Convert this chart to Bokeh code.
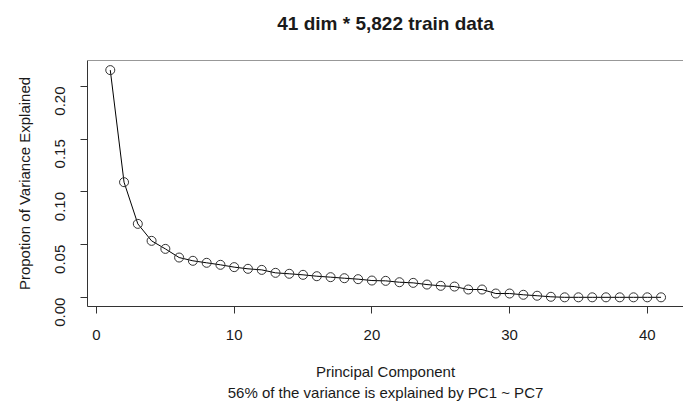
import math
from bokeh.plotting import figure
from bokeh.models import FixedTicker, PrintfTickFormatter, Span, Title, Range1d
from bokeh.embed import file_html
from bokeh.resources import INLINE

# ---- data ----
pc = list(range(1, 42))
variance = [0.2155, 0.1093, 0.0698, 0.0537, 0.0461, 0.0379, 0.0348, 0.0329,
            0.0310, 0.0288, 0.0272, 0.0262, 0.0234, 0.0225, 0.0215, 0.0202,
            0.0193, 0.0183, 0.0174, 0.0161, 0.0158, 0.0145, 0.0139, 0.0123,
            0.0111, 0.0104, 0.0076, 0.0076, 0.0038, 0.0038, 0.0026, 0.0017,
            0.0007, 0.0002, 0.0002, 0.0002, 0.0002, 0.0002, 0.0002, 0.0002,
            0.0002]
x_ticks = [0, 10, 20, 30, 40]
y_ticks = [0.0, 0.05, 0.10, 0.15, 0.20]
title_text = "41 dim * 5,822 train data"
x_label = "Principal Component"
x_sub = "56% of the variance is explained by PC1 ~ PC7"
y_label = "Propotion of Variance Explained"

FONT = "Liberation Sans"
TXT = "#1a1a1a"

X0, X1 = -0.654, 42.63
Y0, Y1 = -0.0085, 0.2246

p = figure(width=683, height=401, output_backend="svg", toolbar_location=None,
           x_range=Range1d(X0, X1), y_range=Range1d(Y0, Y1),
           min_border_left=87, min_border_top=60, min_border_bottom=95,
           min_border_right=0)
p.grid.visible = False
p.outline_line_color = None
p.background_fill_color = "white"
p.border_fill_color = "white"

# spacer panel between the box and the title (pushes the title up)
p.add_layout(Title(text=" ", text_font=FONT, text_font_size="8px", standoff=4), "above")
p.add_layout(Title(text=title_text, align="center", vertical_align="top",
                   text_font=FONT, text_font_size="19px", text_font_style="bold",
                   text_color=TXT, standoff=20), "above")

for ax in (p.xaxis[0], p.yaxis[0]):
    ax.axis_line_color = "#333333"
    ax.major_tick_line_color = "#333333"
    ax.major_tick_out = 7
    ax.major_tick_in = 0
    ax.minor_tick_line_color = None
    ax.major_label_text_font = FONT
    ax.major_label_text_font_size = "15px"
    ax.major_label_text_color = TXT
    ax.axis_label_text_font = FONT
    ax.axis_label_text_font_size = "15px"
    ax.axis_label_text_font_style = "normal"
    ax.axis_label_text_color = TXT

p.xaxis.ticker = FixedTicker(ticks=x_ticks)
p.xaxis.major_label_standoff = 16
p.xaxis.axis_label = x_label
p.xaxis.axis_label_standoff = 20

p.yaxis.ticker = FixedTicker(ticks=y_ticks)
p.yaxis.formatter = PrintfTickFormatter(format="%.2f")
p.yaxis.major_label_orientation = math.pi / 2
p.yaxis.major_label_standoff = 20
p.yaxis.axis_label = y_label
p.yaxis.axis_label_standoff = 15

# top edge of the box
p.add_layout(Span(location=Y1, dimension="width", line_color="#333333", line_width=1))

sub = Title(text=x_sub, align="center", text_font=FONT, text_font_size="15px",
            text_font_style="normal", text_color=TXT, standoff=-1)
p.add_layout(sub, "below")

p.line(pc, variance, line_color="black", line_width=1)
p.scatter(pc, variance, marker="circle", size=9, fill_color=None,
          line_color="#333333", line_width=1)

open("out.html", "w").write(file_html(p, INLINE))
